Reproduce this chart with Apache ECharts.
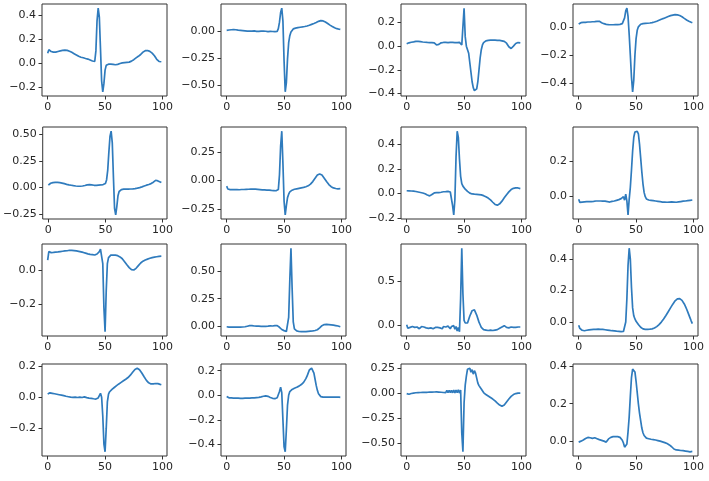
<!DOCTYPE html>
<html><head><meta charset="utf-8">
<script src="https://cdn.jsdelivr.net/npm/echarts@6/dist/echarts.min.js"></script>
<style>html,body{margin:0;padding:0;background:#fff}#c{width:709px;height:481px}</style>
</head><body><div id="c"></div>
<script>
const xTicks = [0, 50, 100];
const p1 = [0.08,0.11,0.10,0.095,0.09,0.09,0.088,0.09,0.092,0.095,0.098,0.10,0.102,0.104,0.106,0.107,0.106,0.104,0.10,0.097,0.093,0.088,0.082,0.077,0.072,0.066,0.060,0.055,0.050,0.047,0.045,0.043,0.040,0.037,0.035,0.032,0.028,0.024,0.02,0.016,0.013,0.012,0.10,0.35,0.455,0.38,0.12,-0.15,-0.24,-0.17,-0.06,-0.02,-0.012,-0.01,-0.01,-0.01,-0.012,-0.012,-0.015,-0.015,-0.013,-0.012,-0.01,-0.005,0.0,0.0,0.002,0.003,0.004,0.005,0.006,0.007,0.01,0.015,0.02,0.027,0.035,0.042,0.048,0.055,0.062,0.07,0.08,0.09,0.098,0.102,0.104,0.103,0.1,0.096,0.09,0.082,0.072,0.06,0.045,0.03,0.018,0.012,0.01,0.01];
const p2 = [0.005,0.006,0.008,0.009,0.01,0.011,0.012,0.011,0.01,0.008,0.006,0.005,0.004,0.003,0.002,0.001,0.0,0.001,-0.002,-0.001,-0.003,0.0,-0.002,-0.004,-0.001,-0.003,-0.005,-0.002,-0.004,-0.006,-0.003,-0.005,-0.002,-0.006,-0.004,-0.003,-0.007,-0.004,-0.005,-0.003,-0.006,-0.004,-0.008,-0.01,-0.005,0.02,0.08,0.17,0.21,0.09,-0.28,-0.565,-0.48,-0.26,-0.11,-0.045,-0.01,0.008,0.018,0.022,0.025,0.027,0.03,0.031,0.033,0.034,0.036,0.038,0.04,0.042,0.045,0.048,0.052,0.056,0.06,0.064,0.068,0.072,0.077,0.083,0.088,0.093,0.095,0.095,0.092,0.088,0.082,0.075,0.068,0.06,0.053,0.046,0.04,0.034,0.028,0.024,0.02,0.017,0.015,0.013];
const p3 = [0.02,0.025,0.028,0.03,0.033,0.035,0.036,0.038,0.04,0.04,0.04,0.039,0.038,0.036,0.035,0.034,0.033,0.032,0.031,0.03,0.03,0.029,0.029,0.028,0.028,0.03,0.01,0.0,0.015,0.025,0.028,0.03,0.031,0.03,0.031,0.032,0.03,0.031,0.032,0.03,0.031,0.032,0.03,0.031,0.03,0.031,0.032,0.03,0.01,0.005,0.32,0.08,0.0,0.012,-0.06,-0.14,-0.22,-0.3,-0.35,-0.375,-0.385,-0.36,-0.3,-0.2,-0.1,-0.03,0.01,0.03,0.04,0.045,0.047,0.048,0.049,0.05,0.05,0.05,0.051,0.05,0.05,0.049,0.048,0.048,0.047,0.045,0.043,0.04,0.035,0.025,0.01,-0.005,-0.018,-0.02,-0.012,0.0,0.012,0.022,0.028,0.03,0.03,0.027];
const p4 = [0.025,0.033,0.035,0.036,0.037,0.038,0.038,0.039,0.04,0.04,0.04,0.041,0.042,0.042,0.043,0.044,0.045,0.046,0.045,0.04,0.035,0.03,0.028,0.025,0.023,0.022,0.021,0.02,0.02,0.02,0.02,0.02,0.021,0.02,0.021,0.022,0.023,0.025,0.028,0.035,0.07,0.12,0.14,0.08,-0.05,-0.2,-0.36,-0.465,-0.38,-0.2,-0.08,-0.02,0.005,0.018,0.024,0.027,0.028,0.029,0.03,0.031,0.031,0.032,0.033,0.034,0.036,0.038,0.04,0.043,0.046,0.05,0.053,0.056,0.06,0.063,0.066,0.07,0.073,0.077,0.08,0.083,0.086,0.088,0.09,0.092,0.093,0.093,0.092,0.09,0.087,0.083,0.078,0.072,0.066,0.06,0.055,0.05,0.046,0.042,0.038,0.035];
const p5 = [0.02,0.03,0.038,0.042,0.044,0.045,0.046,0.046,0.046,0.045,0.044,0.042,0.04,0.037,0.034,0.031,0.028,0.026,0.023,0.021,0.019,0.017,0.015,0.013,0.012,0.011,0.01,0.01,0.01,0.011,0.012,0.014,0.017,0.02,0.023,0.025,0.025,0.024,0.022,0.02,0.019,0.018,0.019,0.02,0.021,0.02,0.022,0.024,0.026,0.028,0.035,0.07,0.16,0.33,0.48,0.53,0.42,0.1,-0.2,-0.26,-0.18,-0.08,-0.04,-0.028,-0.022,-0.02,-0.018,-0.018,-0.017,-0.017,-0.017,-0.016,-0.016,-0.015,-0.015,-0.014,-0.012,-0.01,-0.008,-0.005,-0.003,0.0,0.004,0.008,0.012,0.016,0.02,0.024,0.027,0.031,0.035,0.04,0.048,0.06,0.066,0.064,0.06,0.055,0.05,0.045];
const p6 = [-0.05,-0.075,-0.078,-0.08,-0.079,-0.08,-0.081,-0.08,-0.079,-0.08,-0.08,-0.081,-0.08,-0.079,-0.08,-0.079,-0.078,-0.078,-0.077,-0.077,-0.076,-0.076,-0.075,-0.075,-0.075,-0.076,-0.077,-0.078,-0.079,-0.08,-0.081,-0.082,-0.082,-0.083,-0.083,-0.084,-0.085,-0.085,-0.086,-0.087,-0.087,-0.088,-0.089,-0.09,-0.088,-0.08,0.05,0.3,0.43,0.15,-0.18,-0.3,-0.22,-0.15,-0.12,-0.1,-0.09,-0.085,-0.08,-0.077,-0.075,-0.073,-0.071,-0.069,-0.067,-0.065,-0.063,-0.061,-0.058,-0.055,-0.052,-0.047,-0.04,-0.032,-0.022,-0.01,0.005,0.02,0.035,0.047,0.055,0.057,0.055,0.048,0.035,0.02,0.005,-0.01,-0.024,-0.036,-0.046,-0.054,-0.06,-0.065,-0.068,-0.07,-0.072,-0.073,-0.074,-0.072];
const p7 = [0.022,0.022,0.021,0.021,0.02,0.02,0.019,0.018,0.016,0.014,0.012,0.01,0.008,0.006,0.004,0.001,-0.003,-0.008,-0.013,-0.018,-0.02,-0.015,-0.008,0.0,0.004,0.005,0.006,0.006,0.007,0.008,0.01,0.012,0.014,0.015,0.015,0.016,0.017,0.016,0.012,0.0,-0.1,-0.175,-0.05,0.3,0.51,0.46,0.28,0.14,0.08,0.06,0.045,0.035,0.025,0.017,0.01,0.003,-0.002,-0.004,-0.005,-0.006,-0.006,-0.007,-0.008,-0.009,-0.01,-0.012,-0.015,-0.018,-0.022,-0.027,-0.032,-0.038,-0.045,-0.053,-0.062,-0.072,-0.082,-0.09,-0.095,-0.096,-0.092,-0.085,-0.075,-0.063,-0.05,-0.036,-0.022,-0.01,0.002,0.013,0.023,0.032,0.038,0.042,0.045,0.046,0.046,0.045,0.043,0.04];
const p8 = [-0.02,-0.038,-0.035,-0.036,-0.034,-0.035,-0.036,-0.034,-0.033,-0.034,-0.032,-0.033,-0.031,-0.032,-0.031,-0.03,-0.031,-0.03,-0.031,-0.03,-0.03,-0.031,-0.03,-0.031,-0.032,-0.033,-0.035,-0.036,-0.034,-0.032,-0.03,-0.03,-0.028,-0.026,-0.024,-0.022,-0.02,-0.016,-0.025,-0.005,-0.025,0.01,-0.03,-0.11,-0.02,0.05,0.15,0.26,0.34,0.37,0.375,0.374,0.36,0.3,0.22,0.14,0.07,0.02,-0.005,-0.018,-0.022,-0.024,-0.025,-0.026,-0.027,-0.028,-0.029,-0.03,-0.031,-0.032,-0.033,-0.034,-0.035,-0.036,-0.036,-0.036,-0.037,-0.037,-0.036,-0.036,-0.036,-0.035,-0.035,-0.036,-0.037,-0.037,-0.036,-0.035,-0.034,-0.033,-0.032,-0.031,-0.03,-0.03,-0.029,-0.028,-0.027,-0.026,-0.025,-0.024];
const p9 = [0.06,0.11,0.1,0.104,0.102,0.105,0.104,0.107,0.106,0.108,0.109,0.11,0.111,0.112,0.113,0.114,0.116,0.115,0.117,0.118,0.118,0.117,0.118,0.116,0.115,0.114,0.112,0.111,0.11,0.108,0.107,0.105,0.103,0.101,0.099,0.097,0.095,0.094,0.093,0.092,0.091,0.09,0.092,0.096,0.102,0.11,0.125,0.13,0.04,-0.22,-0.36,-0.12,0.04,0.075,0.085,0.089,0.09,0.09,0.09,0.089,0.088,0.086,0.083,0.079,0.074,0.068,0.06,0.051,0.042,0.033,0.024,0.016,0.009,0.004,0.001,0.002,0.006,0.012,0.02,0.028,0.036,0.043,0.049,0.054,0.058,0.061,0.064,0.066,0.069,0.071,0.073,0.075,0.077,0.078,0.079,0.08,0.081,0.082,0.082,0.083];
const p10 = [-0.005,-0.01,-0.008,-0.011,-0.009,-0.01,-0.008,-0.012,-0.009,-0.007,-0.009,-0.006,-0.008,-0.005,-0.007,-0.003,-0.005,-0.002,0.0,0.002,0.005,0.003,0.006,0.004,0.002,0.005,0.001,0.003,0.0,0.002,-0.001,0.001,-0.002,0.0,-0.001,0.002,0.0,0.001,0.003,0.001,0.002,0.004,0.006,0.008,0.005,0.0,-0.01,-0.02,-0.03,-0.035,-0.04,-0.045,-0.048,-0.05,0.08,0.42,0.71,0.35,0.04,-0.025,-0.038,-0.043,-0.046,-0.048,-0.049,-0.05,-0.051,-0.05,-0.049,-0.05,-0.048,-0.047,-0.046,-0.045,-0.044,-0.043,-0.041,-0.039,-0.036,-0.032,-0.025,-0.015,-0.005,0.005,0.012,0.015,0.016,0.016,0.015,0.014,0.013,0.012,0.011,0.01,0.008,0.006,0.004,0.002,0.0,-0.005];
const p11 = [0.0,-0.04,-0.02,-0.03,-0.045,-0.02,-0.035,-0.03,-0.04,-0.025,-0.03,-0.045,-0.035,-0.02,-0.03,-0.025,-0.02,-0.035,-0.03,-0.04,-0.025,-0.035,-0.03,-0.045,-0.025,-0.03,-0.04,-0.03,-0.02,-0.035,-0.03,-0.045,-0.02,-0.035,-0.025,-0.04,-0.015,-0.03,-0.045,-0.02,-0.035,-0.01,-0.05,-0.02,-0.07,-0.03,-0.08,0.3,0.87,0.35,0.05,0.02,0.0,0.02,0.06,0.1,0.13,0.16,0.14,0.17,0.15,0.11,0.07,0.03,0.0,-0.03,-0.05,-0.055,-0.045,-0.06,-0.05,-0.065,-0.055,-0.06,-0.05,-0.065,-0.055,-0.06,-0.05,-0.055,-0.045,-0.04,-0.03,-0.025,-0.015,-0.01,-0.02,-0.03,-0.025,-0.035,-0.03,-0.025,-0.035,-0.03,-0.025,-0.03,-0.035,-0.025,-0.03,-0.025];
const p12 = [-0.02,-0.04,-0.05,-0.052,-0.054,-0.055,-0.053,-0.052,-0.051,-0.05,-0.049,-0.048,-0.048,-0.047,-0.046,-0.046,-0.045,-0.045,-0.046,-0.046,-0.047,-0.047,-0.048,-0.049,-0.05,-0.051,-0.052,-0.053,-0.054,-0.055,-0.056,-0.056,-0.057,-0.058,-0.058,-0.059,-0.06,-0.061,-0.062,-0.06,-0.05,0.0,0.15,0.36,0.47,0.4,0.22,0.09,0.04,0.02,0.005,-0.005,-0.015,-0.025,-0.033,-0.039,-0.043,-0.045,-0.046,-0.046,-0.046,-0.045,-0.045,-0.044,-0.043,-0.041,-0.038,-0.034,-0.029,-0.023,-0.016,-0.008,0.0,0.01,0.02,0.031,0.042,0.054,0.066,0.078,0.09,0.102,0.114,0.125,0.135,0.143,0.148,0.15,0.149,0.145,0.138,0.128,0.115,0.1,0.083,0.065,0.046,0.027,0.008,-0.01];
const p13 = [0.02,0.03,0.028,0.027,0.025,0.024,0.022,0.021,0.019,0.018,0.016,0.014,0.013,0.011,0.01,0.008,0.006,0.005,0.003,0.002,0.0,0.002,-0.001,0.001,0.0,0.003,-0.002,-0.001,0.0,-0.004,-0.002,0.001,0.002,0.0,-0.003,-0.005,-0.006,-0.005,-0.007,-0.008,-0.01,-0.011,-0.012,-0.01,-0.005,0.01,0.025,0.0,-0.12,-0.3,-0.35,-0.2,-0.03,0.02,0.035,0.043,0.05,0.056,0.062,0.068,0.074,0.08,0.085,0.09,0.095,0.1,0.105,0.11,0.115,0.12,0.126,0.133,0.141,0.15,0.16,0.17,0.178,0.184,0.186,0.183,0.176,0.166,0.155,0.143,0.131,0.119,0.108,0.099,0.092,0.087,0.085,0.084,0.085,0.087,0.088,0.088,0.087,0.085,0.082,0.08];
const p14 = [-0.01,-0.02,-0.021,-0.022,-0.022,-0.023,-0.023,-0.023,-0.024,-0.024,-0.024,-0.024,-0.025,-0.025,-0.025,-0.025,-0.024,-0.024,-0.024,-0.023,-0.023,-0.023,-0.022,-0.022,-0.021,-0.02,-0.019,-0.018,-0.017,-0.015,-0.013,-0.011,-0.008,-0.006,-0.005,-0.006,-0.009,-0.013,-0.018,-0.022,-0.025,-0.027,-0.028,-0.026,-0.02,-0.005,0.03,0.065,0.02,-0.2,-0.42,-0.46,-0.28,-0.08,0.0,0.03,0.04,0.047,0.052,0.057,0.061,0.065,0.069,0.074,0.08,0.087,0.095,0.105,0.118,0.135,0.155,0.18,0.205,0.218,0.22,0.21,0.18,0.13,0.08,0.04,0.012,-0.004,-0.011,-0.014,-0.015,-0.015,-0.015,-0.015,-0.015,-0.015,-0.015,-0.015,-0.015,-0.015,-0.015,-0.016,-0.016,-0.016,-0.016,-0.017];
const p15 = [-0.005,-0.01,-0.012,-0.008,-0.004,-0.002,0.0,0.002,0.003,0.004,0.005,0.005,0.006,0.006,0.007,0.006,0.007,0.008,0.008,0.009,0.01,0.012,0.01,0.013,0.011,0.014,0.012,0.015,0.01,0.018,0.008,0.022,0.006,0.024,0.005,0.026,0.004,0.027,0.004,0.028,0.003,0.03,0.002,0.031,0.003,0.032,0.0,0.03,-0.4,-0.59,-0.1,0.08,0.17,0.24,0.22,0.25,0.21,0.235,0.19,0.225,0.2,0.15,0.1,0.075,0.06,0.04,0.02,0.005,-0.005,-0.015,-0.022,-0.03,-0.038,-0.045,-0.052,-0.06,-0.068,-0.078,-0.09,-0.1,-0.11,-0.12,-0.128,-0.133,-0.13,-0.12,-0.105,-0.09,-0.075,-0.06,-0.045,-0.033,-0.023,-0.015,-0.009,-0.005,-0.002,0.0,0.001,0.0];
const p16 = [-0.005,-0.003,0.0,0.003,0.006,0.01,0.014,0.017,0.02,0.019,0.018,0.016,0.015,0.017,0.018,0.016,0.013,0.01,0.008,0.006,0.004,0.002,0.0,-0.003,-0.005,0.005,0.012,0.017,0.02,0.022,0.024,0.025,0.025,0.025,0.024,0.023,0.02,0.014,0.005,-0.01,-0.032,-0.04,-0.015,0.05,0.13,0.24,0.34,0.385,0.39,0.37,0.32,0.26,0.2,0.15,0.11,0.07,0.045,0.03,0.02,0.016,0.014,0.013,0.012,0.01,0.009,0.008,0.007,0.006,0.005,0.003,0.002,0.0,-0.002,-0.004,-0.006,-0.008,-0.01,-0.013,-0.016,-0.02,-0.025,-0.03,-0.036,-0.042,-0.046,-0.047,-0.048,-0.048,-0.049,-0.05,-0.05,-0.051,-0.052,-0.053,-0.054,-0.055,-0.056,-0.057,-0.056,-0.055];
const panels = [p1,p2,p3,p4,p5,p6,p7,p8,p9,p10,p11,p12,p13,p14,p15,p16];
// y-axis tick values per panel
const yTicks = [
  [-0.2,0,0.2,0.4],[-0.5,-0.25,0],[-0.4,-0.2,0,0.2],[-0.4,-0.2,0],
  [-0.25,0,0.25,0.5],[-0.25,0,0.25],[-0.2,0,0.2,0.4],[0,0.2,0.4],
  [-0.2,0],[0,0.25,0.5],[0,0.5],[0,0.2,0.4],
  [-0.2,0,0.2],[-0.4,-0.2,0,0.2],[-0.5,-0.25,0,0.25],[0,0.2,0.4]
];
const yDecimals = [1,2,1,1, 2,2,1,1, 1,2,1,1, 1,1,2,1];

// layout (px)
const colLeft = [42, 221, 401, 573];
const rowTop = [4, 127, 244, 364];
const W = 125, H = 92;

function yRange(d){
  let mn = Math.min(...d), mx = Math.max(...d);
  const m = (mx - mn) * 0.05;
  return [mn - m, mx + m];
}
function fmt(v, dec){
  const s = Math.abs(v).toFixed(dec);
  return (v < 0 ? '\u2212' : '') + s;
}
const grid = [], xAxis = [], yAxis = [], series = [];
const font = {fontFamily: 'DejaVu Sans', fontSize: 11, color: '#262626'};
panels.forEach((d, i) => {
  const r = Math.floor(i / 4), c = i % 4;
  grid.push({left: colLeft[c], top: rowTop[r], width: W, height: H, show: true, borderColor: '#333', borderWidth: 1, backgroundColor: 'transparent'});
  const xr = [-(d.length-1)*0.05, (d.length-1)*1.05];
  xAxis.push({gridIndex: i, type: 'value', position: 'bottom', min: xr[0], max: xr[1], splitLine: {show: false},
    axisLine: {show: false, onZero: false}, axisTick: {show: true, inside: false, length: 3.5, customValues: xTicks, lineStyle: {color: '#333', width: 1}},
    axisLabel: Object.assign({margin: 6, customValues: xTicks, formatter: v => String(Math.round(v))}, font)});
  const yr = yRange(d);
  const dec = yDecimals[i];
  yAxis.push({gridIndex: i, type: 'value', position: 'left', min: yr[0], max: yr[1], splitLine: {show: false},
    axisLine: {show: false, onZero: false}, axisTick: {show: true, inside: false, length: 3.5, customValues: yTicks[i], lineStyle: {color: '#333', width: 1}},
    axisLabel: Object.assign({margin: 6, customValues: yTicks[i], formatter: v => fmt(v, dec)}, font)});
  series.push({type: 'line', xAxisIndex: i, yAxisIndex: i, data: d.map((v, k) => [k, v]),
    showSymbol: false, symbol: 'none', lineStyle: {color: '#2f7bbd', width: 1.7}, silent: true});
});
const chart = echarts.init(document.getElementById('c'), null, {renderer: 'canvas'});
chart.setOption({animation: false, backgroundColor: '#fff', grid, xAxis, yAxis, series});
</script>
</body></html>
